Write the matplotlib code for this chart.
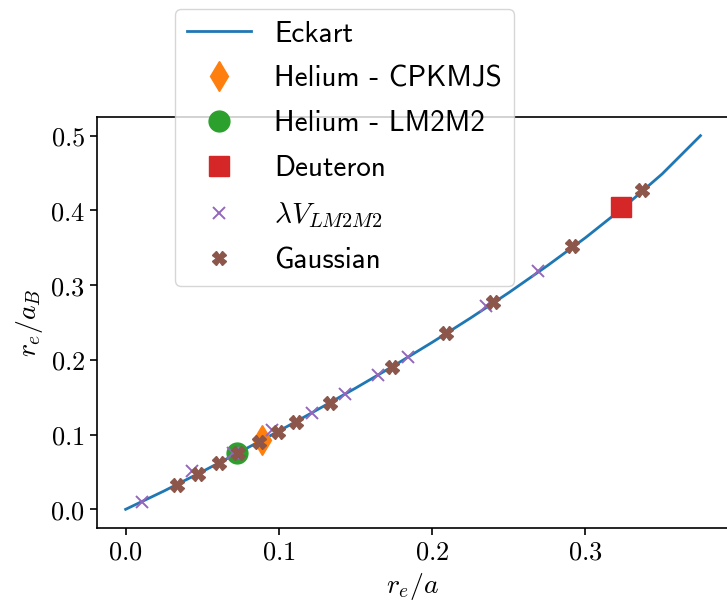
import matplotlib
matplotlib.use("Agg")
import matplotlib.pyplot as plt
from matplotlib.ticker import FuncFormatter, MultipleLocator

plt.rcParams["mathtext.fontset"] = "cm"

# Eckart curve: r_e/a  ->  r_e/a_B
eckart_x = [0.0, 0.025, 0.05, 0.075, 0.1, 0.125, 0.15, 0.175, 0.2,
            0.225, 0.25, 0.275, 0.3, 0.325, 0.35, 0.375]
eckart_y = [0.0, 0.0245, 0.0505, 0.0773, 0.1048, 0.1332, 0.1622, 0.1922,
            0.2235, 0.2560, 0.2900, 0.3258, 0.3635, 0.4043, 0.4488, 0.5000]

# Physical systems
helium_cpkmjs_x = [0.0888]
helium_cpkmjs_y = [0.0921]
helium_lm2m2_x = [0.0729]
helium_lm2m2_y = [0.0755]
deuteron_x = [0.3230]
deuteron_y = [0.4039]

# Scaled LM2M2 potential
lam_x = [0.0105, 0.0433, 0.0703, 0.0955, 0.1218, 0.1434, 0.1645, 0.1839,
         0.2353, 0.2690]
lam_y = [0.0098, 0.0510, 0.0755, 0.1068, 0.1291, 0.1548, 0.1796, 0.2038,
         0.2721, 0.3190]

# Gaussian potential
gauss_x = [0.0333, 0.0474, 0.0611, 0.0733, 0.0872, 0.0992, 0.1110, 0.1333,
           0.1738, 0.2088, 0.2399, 0.2913, 0.3370]
gauss_y = [0.0326, 0.0473, 0.0621, 0.0755, 0.0902, 0.1032, 0.1170, 0.1425,
           0.1908, 0.2359, 0.2775, 0.3523, 0.4272]

labels = ["Eckart", "Helium - CPKMJS", "Helium - LM2M2", "Deuteron",
          r"$\lambda V_{LM2M2}$", "Gaussian"]

fig = plt.figure(figsize=(7.27, 6.05), dpi=100)
ax = fig.add_axes([96.9 / 727, 77 / 605, 632.3 / 727, 411 / 605])

ax.plot(eckart_x, eckart_y, color="C0", lw=2.0, label=labels[0])
ax.plot(helium_cpkmjs_x, helium_cpkmjs_y, "d", color="C1", ms=15,
        ls="none", label=labels[1])
ax.plot(helium_lm2m2_x, helium_lm2m2_y, "o", color="C2", ms=15,
        ls="none", label=labels[2])
ax.plot(deuteron_x, deuteron_y, "s", color="C3", ms=15,
        ls="none", label=labels[3])
ax.plot(lam_x, lam_y, "x", color="C4", ms=9, mew=1.4,
        ls="none", label=labels[4])
ax.plot(gauss_x, gauss_y, "X", color="C5", ms=10,
        ls="none", label=labels[5])

ax.set_xlim(-0.01875, 0.39375)
ax.set_ylim(-0.025, 0.525)
ax.xaxis.set_major_locator(MultipleLocator(0.1))
ax.yaxis.set_major_locator(MultipleLocator(0.1))
fmt = FuncFormatter(lambda v, p: f"${v:.1f}$")
ax.xaxis.set_major_formatter(fmt)
ax.yaxis.set_major_formatter(fmt)
ax.tick_params(labelsize=19, width=1.2, length=5)
for s in ax.spines.values():
    s.set_linewidth(1.2)

ax.set_xlabel(r"$r_e/a$", fontsize=20, labelpad=4)
ax.set_ylabel(r"$r_e/a_B$", fontsize=20, labelpad=4)

leg = ax.legend(loc="upper left", bbox_to_anchor=(175 / 727, 1 - 9 / 605),
                bbox_transform=fig.transFigure, borderaxespad=0,
                prop={"family": "cmss10", "size": 21},
                handlelength=2.2, labelspacing=0.61, framealpha=0.8)

fig.savefig("out.png", dpi=100)
